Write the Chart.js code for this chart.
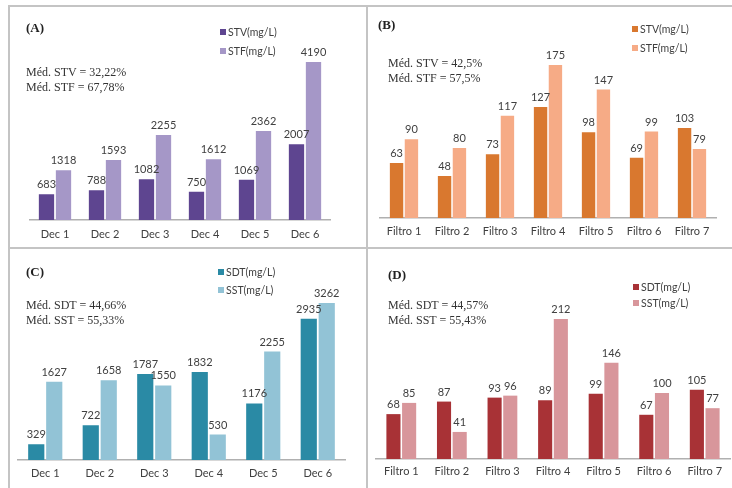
<!DOCTYPE html>
<html>
<head>
<meta charset="utf-8">
<script src="https://cdn.jsdelivr.net/npm/chart.js@4.4.0/dist/chart.umd.min.js"></script>
<style>
  body { margin: 0; background: #fff; }
  #wrap { position: relative; width: 732px; height: 488px; overflow: hidden; background: #fff; }
  canvas { position: absolute; }
  .line { position: absolute; background: #c4c4c4; }
  .tag { position: absolute; font-family: "Liberation Serif", serif; font-weight: bold; font-size: 13px; color: #222; line-height: 1; }
  .note { position: absolute; font-family: "Liberation Serif", serif; font-size: 12px; color: #333; line-height: 15px; white-space: nowrap; }
  .leg { position: absolute; font-family: Lato, sans-serif; font-size: 10.5px; color: #404040; line-height: 1; white-space: nowrap; }
  .leg span { display: inline-block; width: 6px; height: 6px; margin-right: 2px; vertical-align: 1px; }
</style>
</head>
<body>
<div id="wrap">
  <div class="line" style="left:8px;top:5px;width:724px;height:1.5px"></div>
  <div class="line" style="left:8px;top:5px;width:1.5px;height:483px"></div>
  <div class="line" style="left:366px;top:5px;width:1.5px;height:483px"></div>
  <div class="line" style="left:8px;top:247px;width:724px;height:1.5px"></div>

  <canvas id="chartA"></canvas>
  <canvas id="chartB"></canvas>
  <canvas id="chartC"></canvas>
  <canvas id="chartD"></canvas>
</div>

<script>
// panel A - decantadores, solidos volateis / fixos
const decLabels = ['Dec 1', 'Dec 2', 'Dec 3', 'Dec 4', 'Dec 5', 'Dec 6'];
const stvDec = [683, 788, 1082, 750, 1069, 2007];
const stfDec = [1318, 1593, 2255, 1612, 2362, 4190];

// panel B - filtros, solidos volateis / fixos
const filtroLabels = ['Filtro 1', 'Filtro 2', 'Filtro 3', 'Filtro 4', 'Filtro 5', 'Filtro 6', 'Filtro 7'];
const stvFiltro = [63, 48, 73, 127, 98, 69, 103];
const stfFiltro = [90, 80, 117, 175, 147, 99, 79];

// panel C - decantadores, dissolvidos / suspensos
const sdtDec = [329, 722, 1787, 1832, 1176, 2935];
const sstDec = [1627, 1658, 1550, 530, 2255, 3262];

// panel D - filtros, dissolvidos / suspensos
const sdtFiltro = [68, 87, 93, 89, 99, 67, 105];
const sstFiltro = [85, 41, 96, 212, 146, 100, 77];

const valueLabels = {
    id: 'valueLabels',
    afterDatasetsDraw(chart) {
        const ctx = chart.ctx;
        ctx.save();
        ctx.font = '11px Lato, sans-serif';
        ctx.fillStyle = '#404040';
        ctx.textAlign = 'center';
        ctx.textBaseline = 'bottom';
        chart.data.datasets.forEach((ds, i) => {
            chart.getDatasetMeta(i).data.forEach((bar, j) => {
                ctx.fillText(ds.data[j], bar.x, bar.y - 4);
            });
        });
        ctx.restore();
    }
};

function addHtml(cls, left, top, html) {
    const d = document.createElement('div');
    d.className = cls;
    d.style.left = left + 'px';
    d.style.top = top + 'px';
    d.innerHTML = html;
    document.getElementById('wrap').appendChild(d);
}

function makePanel(p) {
    const cv = document.getElementById(p.id);
    const w = p.box[2] - p.box[0], h = p.box[3] - p.box[1];
    cv.style.left = p.box[0] + 'px';
    cv.style.top = p.box[1] + 'px';
    cv.width = w; cv.height = h;
    cv.style.width = w + 'px'; cv.style.height = h + 'px';
    const axisH = 22;
    const plotTop = p.base - p.max * p.scale;

    new Chart(cv, {
        type: 'bar',
        data: {
            labels: p.labels,
            datasets: p.series.map((s, i) => ({
                label: p.names[i],
                data: s,
                backgroundColor: p.colors[i],
                categoryPercentage: p.cat,
                barPercentage: 0.9
            }))
        },
        options: {
            responsive: false,
            animation: false,
            devicePixelRatio: 1,
            layout: {
                padding: {
                    left: p.plot[0] - p.box[0],
                    right: p.box[2] - p.plot[1],
                    top: plotTop - p.box[1],
                    bottom: p.box[3] - p.base - axisH
                }
            },
            plugins: { legend: { display: false }, tooltip: { enabled: false } },
            scales: {
                x: {
                    afterFit: s => { s.height = axisH; },
                    grid: { display: false, drawTicks: false },
                    border: { display: true, color: '#b0b0b0', width: 1.5 },
                    ticks: { color: '#404040', padding: p.tickPad, font: { family: 'Lato', size: 11 } }
                },
                y: { display: false, min: 0, max: p.max }
            }
        },
        plugins: [valueLabels]
    });

    addHtml('tag', p.tag[0], p.tag[1], p.title);
    addHtml('note', p.note[0], p.note[1], p.noteText.join('<br>'));
    p.names.forEach((n, i) => {
        addHtml('leg', p.leg[0], p.leg[1] + i * p.leg[2],
            '<span style="background:' + p.colors[i] + '"></span>' + n);
    });
}

makePanel({
    id: 'chartA', title: '(A)', labels: decLabels, series: [stvDec, stfDec],
    names: ['STV(mg/L)', 'STF(mg/L)'], colors: ['#5e4590', '#a597c7'],
    box: [9, 6, 366, 247], plot: [30, 330], base: 220, max: 5000, scale: 0.0377,
    cat: 0.68, tickPad: 8,
    tag: [26, 21], note: [26, 65], noteText: ['Méd. STV = 32,22%', 'Méd. STF = 67,78%'],
    leg: [220, 27, 19]
});

makePanel({
    id: 'chartB', title: '(B)', labels: filtroLabels, series: [stvFiltro, stfFiltro],
    names: ['STV(mg/L)', 'STF(mg/L)'], colors: ['#d9782f', '#f6ab86'],
    box: [368, 6, 732, 247], plot: [380, 716], base: 218, max: 200, scale: 0.874,
    cat: 0.62, tickPad: 7,
    tag: [378, 18], note: [388, 56], noteText: ['Méd. STV = 42,5%', 'Méd. STF = 57,5%'],
    leg: [632, 24, 19]
});

makePanel({
    id: 'chartC', title: '(C)', labels: decLabels, series: [sdtDec, sstDec],
    names: ['SDT(mg/L)', 'SST(mg/L)'], colors: ['#2a8aa5', '#92c3d6'],
    box: [9, 249, 366, 488], plot: [18, 345], base: 460, max: 3500, scale: 0.0481,
    cat: 0.66, tickPad: 7,
    tag: [26, 265], note: [26, 298], noteText: ['Méd. SDT = 44,66%', 'Méd. SST = 55,33%'],
    leg: [218, 267, 18]
});

makePanel({
    id: 'chartD', title: '(D)', labels: filtroLabels, series: [sdtFiltro, sstFiltro],
    names: ['SDT(mg/L)', 'SST(mg/L)'], colors: ['#a83236', '#d8969b'],
    box: [368, 249, 732, 488], plot: [376, 730], base: 459, max: 250, scale: 0.66,
    cat: 0.62, tickPad: 6,
    tag: [388, 268], note: [388, 298], noteText: ['Méd. SDT = 44,57%', 'Méd. SST = 55,43%'],
    leg: [633, 282, 16]
});
</script>
</body>
</html>
